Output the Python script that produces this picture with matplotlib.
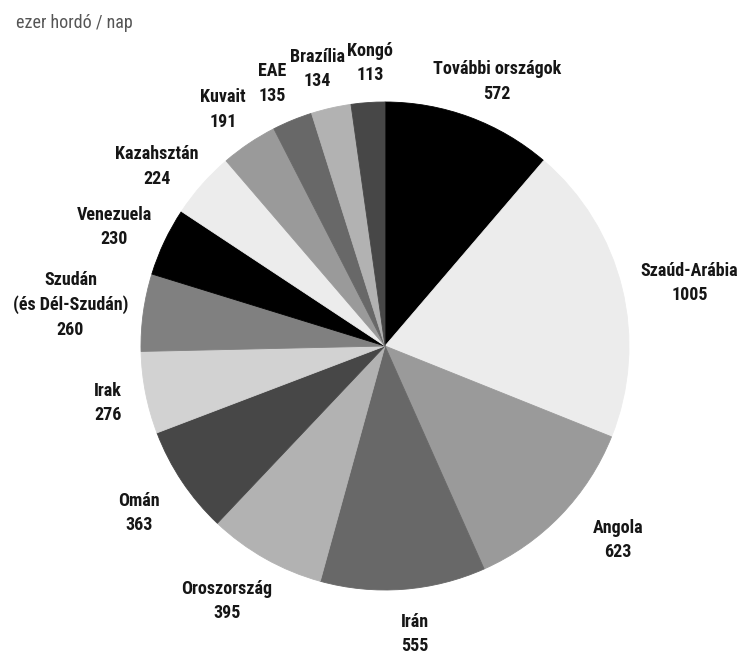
import numpy as np
import matplotlib
matplotlib.use("Agg")
import matplotlib.pyplot as plt
from matplotlib import font_manager

# Oil production by country, thousand barrels per day
countries = ["További országok", "Szaúd-Arábia", "Angola", "Irán", "Oroszország",
             "Omán", "Irak", "Szudán\n(és Dél-Szudán)", "Venezuela", "Kazahsztán",
             "Kuvait", "EAE", "Brazília", "Kongó"]
values = [572, 1005, 623, 555, 395, 363, 276, 260, 230, 224, 191, 135, 134, 113]

# grey cycle for the wedges
greys = ["#000000", "#ececec", "#9a9a9a", "#686868", "#b2b2b2", "#474747",
         "#d2d2d2", "#808080"]
colors = [greys[i % len(greys)] for i in range(len(values))]

# label placement: radial distance (in radii) and angular nudge (deg, clockwise)
label_dist = [1.177, 1.275, 1.243, 1.188, 1.23, 1.218, 1.159, 1.30, 1.213, 1.19,
              1.175, 1.17, 1.17, 1.16]
label_nudge = [2.6, 2.1, -4.1, -1.6, 2.4, -0.5, -0.5, -0.5, -1.6, -3.2,
               -0.6, -0.9, -1.0, 1.0]

available = {f.name for f in font_manager.fontManager.ttflist}
label_family = next((f for f in ["Liberation Sans Narrow", "DejaVu Sans Condensed",
                                 "Roboto Condensed", "Open Sans Condensed", "Liberation Sans"]
                     if f in available), "DejaVu Sans")

W, H = 741, 655
cx, cy, R = 385, 346, 244
fig = plt.figure(figsize=(W / 100, H / 100), dpi=100)
ax = fig.add_axes([0, 0, 1, 1])

wedges, _ = ax.pie(values, colors=colors, startangle=90, counterclock=False,
                   radius=1.0, wedgeprops=dict(linewidth=0.6, edgecolor="none"))
for w, c in zip(wedges, colors):
    w.set_edgecolor(c)

ax.set_xlim(-cx / R, (W - cx) / R)
ax.set_ylim((cy - H) / R, cy / R)
ax.set_aspect("equal")
ax.axis("off")

for w, name, val, d, nudge in zip(wedges, countries, values, label_dist, label_nudge):
    mid = np.deg2rad((w.theta1 + w.theta2) / 2 - nudge)
    ax.text(d * np.cos(mid), d * np.sin(mid), f"{name}\n{val}", ha="center", va="center",
            fontsize=13, fontweight="bold", family=[label_family, "DejaVu Sans"],
            color="#161616", linespacing=1.45)

fig.text(16 / W, 1 - 28 / H, "ezer hordó / nap", ha="left", va="baseline",
         fontsize=13, color="#555555", family=[label_family, "DejaVu Sans"])

fig.savefig("out.png", dpi=100)
